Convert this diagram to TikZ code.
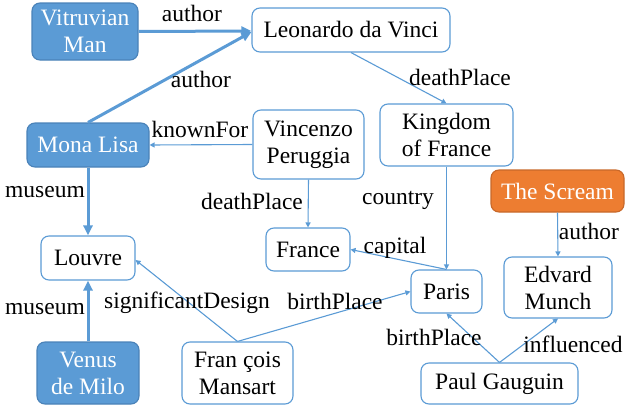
\documentclass[tikz,border=0pt]{standalone}
\usepackage{fontspec}
\setmainfont{Liberation Serif}
\usetikzlibrary{arrows.meta}
\definecolor{eblue}{HTML}{5B9BD5}
\definecolor{dblue}{HTML}{4A82B8}
\definecolor{orng}{HTML}{ED7D31}
\definecolor{dorng}{HTML}{C8682A}
\begin{document}
\begin{tikzpicture}[x=1pt,y=-1pt,
  every node/.style={font=\fontsize{23.5}{27}\selectfont},
  ent/.style={draw=eblue,line width=1.1pt,rounded corners=8pt,fill=white,align=center,inner sep=0pt,text=black},
  fent/.style={ent,draw=dblue,fill=eblue,text=white},
  oent/.style={ent,draw=dorng,fill=orng,text=white},
  thin edge/.style={draw=eblue,line width=1.1pt,-{Triangle[length=5pt,width=5pt]}},
  thick edge/.style={draw=eblue,line width=3pt,-{Triangle[length=10pt,width=9pt]}},
  lbl/.style={anchor=base,inner sep=0pt,text=black}]
\useasboundingbox (0,0) rectangle (625,407);
% nodes
\node[fent,minimum width=106pt,minimum height=57pt] (vit) at (85,31.5) {Vitruvian\\Man};
\node[ent,minimum width=198pt,minimum height=44pt] (leo) at (351,30) {Leonardo da Vinci};
\node[fent,minimum width=122pt,minimum height=44pt] (mona) at (88,145) {Mona Lisa};
\node[ent,minimum width=111pt,minimum height=69pt] (vin) at (308.5,144.5) {Vincenzo\\Peruggia};
\node[ent,minimum width=133pt,minimum height=62pt] (king) at (446.5,135) {Kingdom\\of France};
\node[oent,minimum width=133pt,minimum height=42pt] (scream) at (557.5,191) {The Scream};
\node[ent,minimum width=94pt,minimum height=44pt] (louvre) at (88,258) {Louvre};
\node[ent,minimum width=84pt,minimum height=43pt] (france) at (308,249.5) {France};
\node[ent,minimum width=71pt,minimum height=43pt] (paris) at (446.5,291.5) {Paris};
\node[ent,minimum width=108pt,minimum height=61pt] (munch) at (558,287.5) {Edvard\\Munch};
\node[fent,minimum width=102pt,minimum height=62pt] (venus) at (88,373) {Venus\\de Milo};
\node[ent,minimum width=111pt,minimum height=62pt] (mans) at (237.5,373) {Fran çois\\Mansart};
\node[ent,minimum width=157pt,minimum height=41pt] (gau) at (499.5,383.5) {Paul Gauguin};
% edges
\draw[thick edge] (vit.east) -- ([yshift=-1pt]leo.west);
\draw[thick edge] (mona.north) -- ([yshift=-2pt]leo.west);
\draw[thin edge] (leo.south) -- (king.north);
\draw[thin edge] (vin.west) -- (mona.east);
\draw[thick edge] (mona.south) -- (louvre.north);
\draw[thin edge] (vin.south) -- (france.north);
\draw[thin edge] (king.south) -- (paris.north);
\draw[thin edge] (paris.north) -- (france.east);
\draw[thin edge] (scream.south) -- (munch.north);
\draw[thin edge] (mans.north) -- ([yshift=-2pt]louvre.east);
\draw[thin edge] (mans.north) -- (paris.west);
\draw[thick edge] (venus.north) -- (louvre.south);
\draw[thin edge] (gau.north) -- (paris.south);
\draw[thin edge] (gau.north) -- (munch.south);
% labels
\node[lbl] (l1) at (192,21) {author};
\node[lbl] (l2) at (201,87) {author};
\node[lbl] (l3) at (200,137) {knownFor};
\node[lbl] (l4) at (45,197) {museum};
\node[lbl] (l5) at (460,85) {deathPlace};
\node[lbl] (l6) at (252,209) {deathPlace};
\node[lbl] (l7) at (398,204) {country};
\node[lbl] (l8) at (395,253) {capital};
\node[lbl] (l9) at (589,239) {author};
\node[lbl] (l10) at (187,308) {significantDesign};
\node[lbl] (l11) at (335,309) {birthPlace};
\node[lbl] (l12) at (45,314) {museum};
\node[lbl] (l13) at (434,345) {birthPlace};
\node[lbl] (l14) at (573,352) {influenced};
\end{tikzpicture}
\end{document}
